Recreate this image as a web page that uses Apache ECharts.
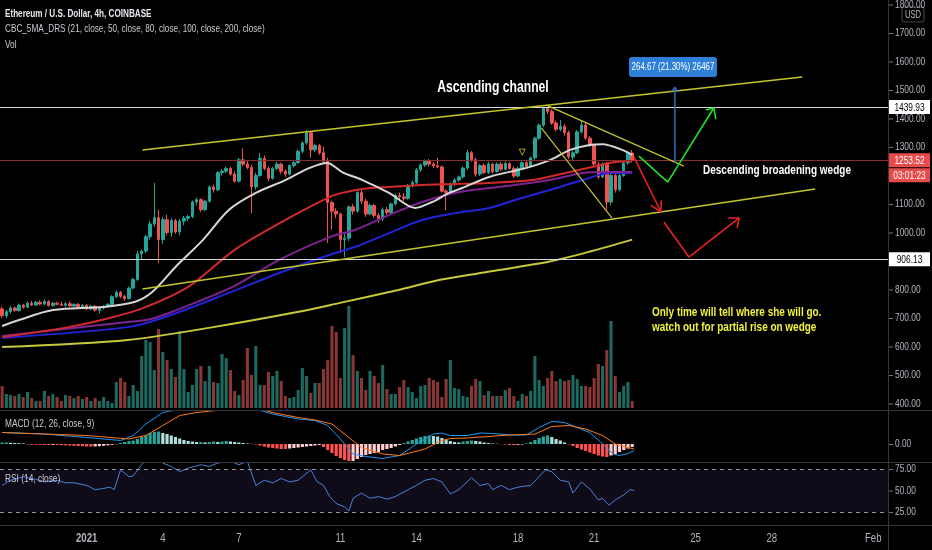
<!DOCTYPE html>
<html>
<head>
<meta charset="utf-8">
<title>ETH/USD 4h</title>
<script src="https://cdn.jsdelivr.net/npm/echarts@6/dist/echarts.min.js"></script>
<style>
html,body{margin:0;padding:0;background:#000;}
#main{width:932px;height:550px;}
</style>
</head>
<body>
<div id="main"></div>
<script>
var FONT = "'Liberation Sans', 'DejaVu Sans', sans-serif";
var SX = 0.76; // text is drawn narrower to match the condensed face of the original

// 4h candles, one row per bar: [open, high, low, close]
var ohlc = [
  [732,740,700,708],[708,728,700,722],[722,742,715,735],[735,740,722,726],[726,750,722,745],
  [745,750,732,738],[738,758,735,752],[752,760,742,746],[746,760,742,755],[755,762,745,749],
  [749,765,745,758],[758,762,740,744],[744,756,740,752],[752,757,744,748],[748,758,742,745],
  [745,755,738,750],[750,758,740,742],[742,752,735,748],[748,752,734,738],[738,750,733,745],
  [745,749,728,732],[732,746,728,741],[741,746,722,727],[727,740,716,735],[735,745,730,740],
  [740,752,735,748],[748,780,745,775],[775,796,770,790],[790,795,770,776],[776,782,760,768],
  [768,810,765,805],[805,842,800,835],[835,935,830,925],[925,940,905,935],[935,992,928,985],
  [985,1040,975,1030],[1030,1174,1020,1052],[1052,1080,893,975],[975,1055,960,1045],[1045,1062,990,1000],
  [1000,1050,985,1042],[1042,1048,995,1002],[1002,1048,990,1040],[1040,1058,1025,1050],[1050,1062,1040,1056],
  [1056,1112,1050,1107],[1107,1122,1095,1115],[1115,1120,1072,1080],[1080,1115,1075,1110],[1110,1165,1105,1160],
  [1160,1168,1140,1150],[1150,1215,1145,1210],[1210,1222,1200,1215],[1215,1232,1208,1225],[1225,1230,1200,1205],
  [1205,1215,1175,1180],[1180,1262,1175,1255],[1255,1296,1232,1240],[1240,1250,1222,1228],[1228,1238,1068,1160],
  [1160,1210,1150,1200],[1200,1279,1195,1260],[1260,1270,1218,1225],[1225,1232,1180,1190],[1190,1230,1185,1225],
  [1225,1248,1218,1240],[1240,1245,1205,1215],[1215,1222,1195,1205],[1205,1240,1200,1235],[1235,1252,1228,1245],
  [1245,1292,1240,1285],[1285,1320,1278,1314],[1314,1360,1308,1350],[1350,1356,1262,1290],[1290,1312,1282,1305],
  [1305,1310,1272,1280],[1280,1302,1242,1250],[1250,1262,963,1105],[1105,1112,1010,1075],[1075,1085,1050,1065],
  [1065,1070,928,975],[975,995,914,980],[980,1095,970,1090],[1090,1100,1062,1075],[1075,1145,1070,1140],
  [1140,1150,1100,1110],[1110,1118,1055,1065],[1065,1102,1060,1095],[1095,1100,1052,1060],[1060,1068,1035,1048],
  [1048,1088,1040,1080],[1080,1090,1062,1070],[1070,1106,1065,1100],[1100,1136,1095,1130],[1130,1140,1118,1125],
  [1125,1138,1110,1120],[1120,1170,1115,1165],[1165,1182,1158,1175],[1175,1226,1170,1220],[1220,1242,1212,1237],
  [1237,1256,1230,1250],[1250,1258,1232,1240],[1240,1248,1226,1234],[1234,1262,1225,1230],[1230,1236,1140,1145],
  [1145,1152,1079,1140],[1140,1176,1135,1170],[1170,1190,1162,1184],[1184,1200,1178,1195],[1195,1232,1190,1226],
  [1226,1290,1220,1280],[1280,1286,1248,1255],[1255,1262,1196,1205],[1205,1240,1198,1235],[1235,1242,1205,1210],
  [1210,1248,1205,1240],[1240,1245,1208,1214],[1214,1246,1210,1240],[1240,1248,1216,1222],[1222,1250,1218,1242],
  [1242,1246,1220,1225],[1225,1232,1192,1198],[1198,1230,1194,1225],[1225,1250,1220,1245],[1245,1252,1226,1232],
  [1232,1266,1228,1262],[1262,1336,1255,1331],[1331,1382,1325,1377],[1377,1440,1370,1437],[1437,1440,1415,1425],
  [1425,1432,1378,1384],[1384,1392,1355,1362],[1362,1395,1355,1372],[1372,1380,1340,1350],[1350,1358,1258,1265],
  [1265,1286,1255,1280],[1280,1360,1275,1353],[1353,1395,1348,1377],[1377,1384,1325,1331],[1331,1338,1300,1307],
  [1307,1312,1232,1240],[1240,1248,1188,1195],[1195,1246,1190,1240],[1240,1248,1080,1107],[1107,1205,1095,1200],
  [1200,1206,1140,1150],[1150,1205,1145,1200],[1200,1250,1195,1244],[1244,1284,1238,1279],[1279,1290,1245,1253.52]
];

var volumes = [
  22,14,13,12,14,11,16,10,7,7, 17,12,14,11,7,13,12,10,12,9, 11,7,10,7,11,7,5,26,30,26,
  12,23,17,52,68,66,38,79,56,48, 39,31,77,39,16,23,39,42,27,42, 26,25,54,50,38,17,13,28,60,33,
  62,23,23,36,32,37,27,12,10,11, 18,40,32,15,25,25,39,48,82,76, 30,80,102,53,37,30,18,37,32,25,
  43,19,14,14,21,28,21,16,10,22, 23,30,28,26,11,29,48,20,19,12, 11,22,29,27,13,17,12,12,12,18,
  20,12,7,14,12,17,52,28,22,30, 37,27,29,27,28,33,29,22,22,21, 30,44,42,58,87,32,16,22,26,7
];

// moving averages, [bar, price]
var ma21 = [[0,672],[4,693],[12,728],[24,739],[31.3,756],[35.5,791],[41,879],[47.5,974],[53.6,1079],[60,1139],[67,1184],[72.6,1226],[76.9,1244],[80.4,1212],[85.2,1184],[91.5,1139],[97.7,1086],[101.7,1107],[105.7,1139],[108.8,1156],[115.2,1195],[123.8,1226],[129.5,1254],[134.2,1289],[138.9,1307],[142,1310],[146.8,1289],[149,1272]];
var ma50 = [[0,633],[15.7,668],[23.5,693],[33,733],[44,809],[55,939],[67,1044],[77.5,1125],[80.4,1139],[85.2,1153],[91.5,1160],[99.3,1167],[107.2,1170],[115.2,1174],[125.3,1184],[133.2,1209],[139.5,1230],[145,1247],[149,1251]];
var ma80 = [[0,637],[29.7,686],[34.7,695],[40.1,721],[54.5,809],[65.5,904],[77.5,984],[83.4,1009],[91.5,1061],[99.3,1107],[107.2,1139],[115.2,1156],[121.3,1167],[129.5,1184],[137.3,1209],[142,1212],[149,1212]];
var ma100 = [[0,630],[29.7,668],[37.9,700],[53.6,788],[65.5,858],[77.3,921],[83.4,949],[91.5,998],[99.3,1044],[107.2,1068],[115.2,1086],[121.3,1114],[129.5,1149],[137.3,1184],[143.7,1209],[149,1209]];
var ma200 = [[0,598],[29.7,623],[49.9,668],[69.8,721],[79.9,753],[93.7,798],[103.3,833],[114,860],[129.5,898],[139.5,935],[149,975]];

// MACD pane
var macdHist = [
  3,3,2.4,2,1.6,1.2,
  -1,-1.4,-1.6,-1.8,-2,-2,-1.8,-2,-2.4,-2.6,-3,-3.6,-4,-4.4,
  -5,-5.2,-4.8,-4.4,-3.6,-2.6,-1.6,-0.6,
  2,4,6,7,10,14,18,22,24,25,
  22,20,17,14,11,8,6,
  5,4,4,3,4,5,4,5,6,5,4,3,
  2,1,0.4,-1,
  -3,-5,-7,-8,-9,-10,-10,-9,-8,-7,
  -6,-5,-4,-3,-2,
  -6,-12,-18,-24,-28,-32,-36,-34,
  -30,-26,-22,-20,-18,-16,-12,-10,-8,-5,-2,
  2,5,8,11,14,16,17,16,15,
  12,9,6,
  4,3,5,6,7,6,5,3,2,1,0.6,-0.4,
  -1,-2,-2.4,-1.6,-1,1,
  4,8,12,15,17,14,10,7,3,
  -1,-4,-8,-11,-14,-17,-20,-23,-25,-26,
  -23,-20,-16,-12,-9,-6
];
var macdLine = [[0,23],[10,20],[20,13],[28,7],[31,17],[34,40],[38,63],[42,70],[46,68],[50,70],[54,72],[58,77],[60,70],[64,60],[70,50],[74,47],[77,37],[80,10],[83,-20],[86,-25],[90,-29],[94,-23],[98,0],[102,20],[104,22],[106,17],[110,17],[113,22],[116,21],[120,18],[124,18],[127,33],[130,45],[133,43],[136,33],[139,23],[142,0],[144.5,-20],[146,-23],[148,-19],[149.5,-13]];
var signalLine = [[0,23],[20,17],[30,10],[34,17],[38,37],[42,57],[46,63],[54,70],[60,72],[64,63],[70,53],[74,48],[78,40],[82,13],[85,-7],[90,-20],[94,-23],[100,-10],[104,7],[106,11],[110,12],[120,18],[126,20],[130,35],[134,37],[138,30],[142,17],[145,0],[148,-7],[149.5,-10]];

// RSI pane
var rsi = [[0,56],[2,62],[5,66],[8,63],[10,60],[13,62],[15,59],[17,59],[20,56],[22,51],[24,52.5],[25.5,54],[26.5,51],[28,74],[30,66],[31,67],[33,80],[36,97],[38,82],[40,78],[42,72],[44,76],[47,80],[49,78],[51,82],[54,84],[56,80],[58,84],[60,56],[62,62],[64,59],[66,64],[68,60],[70,62],[73,74],[74.5,60],[76,56],[77.5,43],[79,35],[81,31],[82,26.5],[83,41],[85,47],[87,41],[89,43],[91,40],[93,43],[96,51],[98,56],[100,62],[102,64],[104,60],[106,46],[108,51],[111,65],[113,56],[115,58],[116,51],[118,56],[120,51],[122,54],[125,56],[128.5,74],[130,72],[132,62],[134,60],[135,47],[137,60],[139,52],[141,39],[142,41],[143.5,33],[145,39],[147,45],[148.5,51],[149.5,50]];

// axis ticks
var slotCount = 210;
var tickIdx = [20,38,56,80,98,122,140,164,182,206];
var tickText = ['2021','4','7','11','14','18','21','25','28','Feb'];
var priceTicks = [400,500,600,700,800,1000,1100,1300,1400,1500,1600,1700,1800];
var macdTicks = [0];
var rsiTicks = [25,50,75];
var levels = [1439.93, 906.13];
var lastPrice = 1253.52;

// drawings, [bar, price]
var channelTop = [[33.2,1289.5],[189.2,1546]];
var channelBottom = [[33.2,802],[192.3,1153]];
var wedgeTop = [[128.7,1447],[161.2,1233]];
var wedgeBottom = [[127.5,1367],[144.2,1051]];
var redArrow = [[149.4,1265],[155.8,1072]];
var redArrowHead = [[153.4,1096],[155.8,1072],[155.9,1114]];
var redPath = [[156.5,1037],[162.4,914],[174.3,1051]];
var redPathHead = [[171.7,1051],[174.3,1051],[173.8,1016]];
var greenPath = [[150.6,1268],[157.4,1177],[168.3,1437]];
var greenPathHead = [[166.4,1430],[168.3,1437],[168.8,1398]];
var measure = [[159.1,1245],[159.1,1510]];
var measureHead = [[158.3,1494],[159.1,1510],[159.9,1494]];
var marker = [[123,1282]];

var chart = echarts.init(document.getElementById('main'));

var slots = [];
for (var i = 0; i < slotCount; i++) slots.push(String(i));

var candleData = ohlc.map(function (r) { return [r[0], r[3], r[2], r[1]]; });
var volData = volumes.map(function (v, i) {
  var up = ohlc[i][3] >= ohlc[i][0];
  return { value: v, itemStyle: { color: up ? '#1d6b60' : '#8a3634' } };
});
var histData = macdHist.map(function (v, i) {
  var prev = i ? macdHist[i - 1] : v;
  var c;
  if (v >= 0) c = v >= prev ? '#26a69a' : '#b2dfdb';
  else c = v <= prev ? '#ff5252' : '#ffcdd2';
  return { value: v, itemStyle: { color: c } };
});

function path(points, color, width, xi, yi, smooth, z) {
  return {
    type: 'line', xAxisIndex: xi, yAxisIndex: yi, data: points,
    symbol: 'none', smooth: smooth || false, silent: true, z: z || 5,
    lineStyle: { color: color, width: width }
  };
}

var L = -3, R = 44;

function catAxis(grid) {
  return { type: 'category', gridIndex: grid, data: slots, boundaryGap: true, show: false };
}
function valAxis(grid) {
  return { type: 'value', gridIndex: grid, min: -0.5, max: slotCount - 0.5, show: false };
}
function priceAxis(grid, min, max) {
  return { type: 'value', gridIndex: grid, position: 'right', min: min, max: max, show: false };
}

var yellow = '#c5c52a';

var option = {
  backgroundColor: '#000',
  animation: false,
  grid: [
    { left: L, right: R, top: 0, height: 410 },
    { left: L, right: R, top: 268, height: 140 },
    { left: L, right: R, top: 411, height: 50 },
    { left: L, right: R, top: 463, height: 62 }
  ],
  xAxis: [
    catAxis(0), valAxis(0),
    catAxis(1),
    catAxis(2), valAxis(2),
    catAxis(3), valAxis(3)
  ],
  yAxis: [
    priceAxis(0, 377.2, 1815.8),
    { type: 'value', gridIndex: 1, min: 0, max: 140, show: false },
    priceAxis(2, -34, 66),
    priceAxis(3, 10, 82)
  ],
  series: [
    {
      type: 'bar', xAxisIndex: 2, yAxisIndex: 1, data: volData, barWidth: '72%', z: 1, silent: true
    },
    {
      type: 'candlestick', xAxisIndex: 0, yAxisIndex: 0, data: candleData, barWidth: '70%', z: 3,
      itemStyle: { color: '#26a69a', color0: '#ef5350', borderColor: '#26a69a', borderColor0: '#ef5350', borderWidth: 1 },
      markLine: {
        silent: true, symbol: ['none', 'none'], label: { show: false },
        data: [
          { yAxis: levels[0], lineStyle: { color: '#d8d8d8', width: 1.2, type: 'solid' } },
          { yAxis: levels[1], lineStyle: { color: '#d8d8d8', width: 1.2, type: 'solid' } },
          { yAxis: lastPrice, lineStyle: { color: '#8a2d2d', width: 1, type: 'solid' } }
        ]
      }
    },
    path(ma200, '#c8c83a', 2, 1, 0, 0.3, 4),
    path(ma100, '#2323d8', 2, 1, 0, 0.3, 4),
    path(ma80, '#7d2391', 2, 1, 0, 0.3, 4),
    path(ma50, '#d22a2a', 2, 1, 0, 0.3, 4),
    path(ma21, '#d6d6d6', 2, 1, 0, 0.3, 4),
    path(channelTop, yellow, 1.5, 1, 0),
    path(channelBottom, yellow, 1.5, 1, 0),
    path(wedgeTop, yellow, 1.2, 1, 0),
    path(wedgeBottom, yellow, 1.2, 1, 0),
    path(redArrow, '#e82020', 1.6, 1, 0),
    path(redArrowHead, '#e82020', 1.6, 1, 0),
    path(redPath, '#e82020', 1.6, 1, 0),
    path(redPathHead, '#e82020', 1.6, 1, 0),
    path(greenPath, '#22e022', 1.6, 1, 0),
    path(greenPathHead, '#22e022', 1.6, 1, 0),
    path(measure, '#2d6fc0', 1.5, 1, 0),
    path(measureHead, '#2d6fc0', 1.2, 1, 0),
    {
      type: 'scatter', xAxisIndex: 1, yAxisIndex: 0, data: marker, symbol: 'triangle', symbolRotate: 180,
      symbolSize: 6, silent: true, z: 6, itemStyle: { color: 'rgba(0,0,0,0)', borderColor: '#e0c020', borderWidth: 1 }
    },
    { type: 'bar', xAxisIndex: 3, yAxisIndex: 2, data: histData, barWidth: '75%', silent: true },
    path(macdLine, '#2196f3', 1, 4, 2, false, 5),
    path(signalLine, '#ff7a1a', 1, 4, 2, false, 5),
    {
      type: 'line', xAxisIndex: 6, yAxisIndex: 3, data: rsi, symbol: 'none', silent: true,
      lineStyle: { color: '#4a82d8', width: 1 },
      markArea: { silent: true, itemStyle: { color: 'rgba(126,87,194,0.13)' }, data: [[{ yAxis: 25 }, { yAxis: 75 }]] },
      markLine: {
        silent: true, symbol: ['none', 'none'], label: { show: false },
        lineStyle: { color: '#9598a1', type: [4, 4], width: 1 },
        data: [{ yAxis: 75 }, { yAxis: 25 }]
      }
    }
  ]
};
chart.setOption(option);

function txt(x, y, s, color, size, weight, align, sx) {
  return {
    type: 'text', x: x, y: y, z: 100, zlevel: 0, silent: true, scaleX: sx || SX,
    style: { text: s, fill: color, fontSize: size, fontFamily: FONT, fontWeight: weight || 'normal',
      align: align || 'left', verticalAlign: 'middle' }
  };
}
function seg(x1, y1, x2, y2, color) {
  return { type: 'line', z: 90, silent: true, shape: { x1: x1, y1: y1, x2: x2, y2: y2 }, style: { stroke: color || '#363636', lineWidth: 1 } };
}
function rect(x, y, w, h, fill, r, stroke) {
  return { type: 'rect', z: 95, silent: true, shape: { x: x, y: y, width: w, height: h, r: r || 0 },
    style: { fill: fill, stroke: stroke || null } };
}
function box(y, text, fill, color) {
  return [rect(889, y - 7, 41, 14, fill), txt(909.5, y + 0.5, text, color, 11, 'normal', 'center')];
}

var gfx = [
  seg(0, 410.5, 932, 410.5), seg(0, 462.5, 932, 462.5), seg(0, 525.5, 932, 525.5),
  seg(888.5, 0, 888.5, 550)
];

// value labels on the right-hand scales, placed through each axis
function scaleLabels(yAxisIndex, ticks) {
  ticks.forEach(function (v) {
    var py = chart.convertToPixel({ yAxisIndex: yAxisIndex }, v);
    gfx.push(seg(889, py + 0.5, 893, py + 0.5, '#777'));
    gfx.push(txt(895, py, v.toFixed(2), '#b2b5be', 11));
  });
}
scaleLabels(0, priceTicks);
scaleLabels(2, macdTicks);
scaleLabels(3, rsiTicks);

// time labels
tickIdx.forEach(function (k, j) {
  var px = chart.convertToPixel({ xAxisIndex: 6 }, k);
  gfx.push(txt(px, 539, tickText[j], '#b2b5be', 12, j === 0 ? 'bold' : 'normal', 'center', 0.8));
});

// boxes on the price scale
var yLast = chart.convertToPixel({ yAxisIndex: 0 }, lastPrice);
gfx = gfx.concat(
  box(chart.convertToPixel({ yAxisIndex: 0 }, levels[0]), levels[0].toFixed(2), '#ffffff', '#000000'),
  box(chart.convertToPixel({ yAxisIndex: 0 }, levels[1]), levels[1].toFixed(2), '#ffffff', '#000000'),
  box(yLast, lastPrice.toFixed(2), '#e84b4b', '#ffffff'),
  box(yLast + 15, '03:01:23', '#e84b4b', '#ffffff')
);

gfx.push(
  txt(5, 14, 'Ethereum / U.S. Dollar, 4h, COINBASE', '#e6e8ee', 11, 'bold', 'left', 0.74),
  txt(5, 29, 'CBC_5MA_DRS (21, close, 50, close, 80, close, 100, close, 200, close)', '#c9cbd2', 11, 'normal', 'left', 0.745),
  txt(5, 45, 'Vol', '#c9cbd2', 11),
  txt(5, 424, 'MACD (12, 26, close, 9)', '#c9cbd2', 11),
  txt(5, 479, 'RSI (14, close)', '#c9cbd2', 11),
  txt(493, 88, 'Ascending channel', '#ffffff', 16, 'bold', 'center', 0.76),
  txt(703, 170, 'Descending broadening wedge', '#ffffff', 13, 'bold', 'left', 0.77),
  txt(652, 313, 'Only time will tell where she will go.', '#f2f23a', 12, 'bold', 'left', 0.83),
  txt(652, 328, 'watch out for partial rise on wedge', '#f2f23a', 12, 'bold', 'left', 0.83),
  rect(629, 57, 88, 20, '#2e7fd8', 3),
  txt(673, 67, '264.67 (21.30%) 26467', '#ffffff', 11, 'normal', 'center', 0.72),
  rect(902, 7, 22, 15, '#000', 2, '#4a4a4a'),
  txt(913, 15, 'USD', '#b2b5be', 10, 'normal', 'center')
);

chart.setOption({ graphic: gfx });
</script>
</body>
</html>
